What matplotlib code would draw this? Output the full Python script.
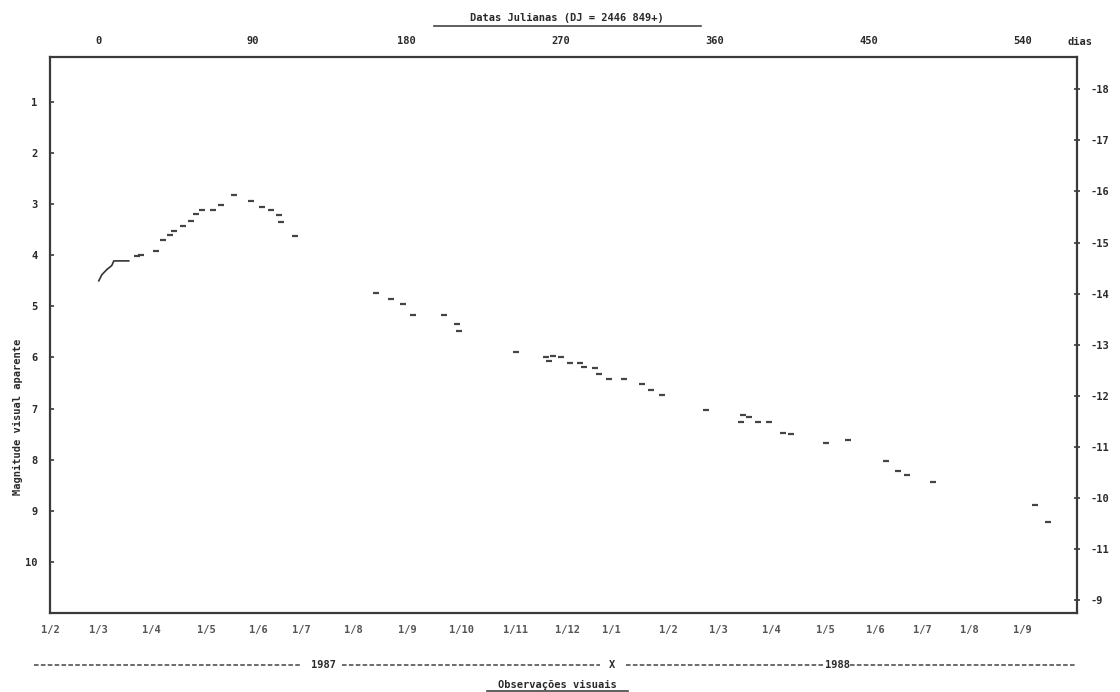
import matplotlib
matplotlib.use('Agg')
import matplotlib.pyplot as plt
from matplotlib.lines import Line2D

# Curva de luz (dias apos DJ 2446849, magnitude visual aparente)
dias_subida = [0.2, 2.0, 4.9, 7.8, 9.0, 13.6, 17.7]
mag_subida = [4.50, 4.38, 4.28, 4.20, 4.11, 4.11, 4.11]

dias_obs = [22.4, 24.7, 33.4, 37.5, 42.1, 44.0, 49.2, 53.8, 57.3, 60.8, 67.2, 71.9,
            79.4, 89.3, 95.7, 100.9, 105.6, 106.8, 114.9,
            162.1, 170.8, 177.8, 183.6, 202.2, 209.8, 210.9, 244.0,
            261.6, 263.4, 265.7, 270.3, 275.6, 281.4, 283.7, 290.1, 292.4,
            298.2, 307.0, 317.5, 322.7, 329.1,
            355.3, 375.7, 376.9, 380.4, 385.6, 392.0, 400.2, 404.8, 425.2,
            438.0, 460.1, 467.1, 472.3, 487.5, 547.4, 555.0]
mag_obs = [4.01, 3.99, 3.91, 3.71, 3.60, 3.52, 3.42, 3.32, 3.20, 3.12, 3.12, 3.01,
           2.83, 2.93, 3.05, 3.12, 3.22, 3.34, 3.63,
           4.73, 4.85, 4.95, 5.17, 5.17, 5.34, 5.48, 5.89,
           5.99, 6.07, 5.97, 5.99, 6.11, 6.11, 6.19, 6.21, 6.33,
           6.42, 6.42, 6.52, 6.64, 6.74,
           7.03, 7.27, 7.13, 7.17, 7.27, 7.27, 7.47, 7.49, 7.68,
           7.62, 8.02, 8.23, 8.29, 8.43, 8.88, 9.21]

# Eixos
dias_ticks = [0, 90, 180, 270, 360, 450, 540]
meses_pos = [-28.3, 0.2, 31.1, 63.1, 93.4, 118.4, 149.2, 180.7, 212.1, 243.5,
             273.8, 300.0, 333.2, 362.3, 393.1, 424.6, 453.7, 481.6, 509.0, 539.8]
meses_lab = ['1/2', '1/3', '1/4', '1/5', '1/6', '1/7', '1/8', '1/9', '1/10', '1/11',
             '1/12', '1/1', '1/2', '1/3', '1/4', '1/5', '1/6', '1/7', '1/8', '1/9']
mag_ticks = [1, 2, 3, 4, 5, 6, 7, 8, 9, 10]
abs_ticks = [-18, -17, -16, -15, -14, -13, -12, -11, -10, -9, -8]
abs_lab = ['-18', '-17', '-16', '-15', '-14', '-13', '-12', '-11', '-10', '-11', '-9']
modulo_dist = 18.75

fonte = {'family': 'DejaVu Sans Mono', 'weight': 'bold', 'size': 7.5}
cor_txt = '#2a2a2a'
cor_eixo = '#3a3a3a'

fig = plt.figure(figsize=(11.2, 6.92), dpi=100)
ax = fig.add_axes([50 / 1120, 1 - 613 / 692, 1027 / 1120, 556 / 692])

# subida inicial ligada por linha, resto em tracos
ax.plot(dias_subida, mag_subida, '-', color='#333333', lw=1.2)
ax.plot(dias_obs, mag_obs, linestyle='none', marker='_', markersize=5,
        mew=1.6, color='#444444')

ax.set_xlim(-26.0, 571.8)
ax.set_ylim(11.0, 0.12)

for s in ax.spines.values():
    s.set_color(cor_eixo)
    s.set_linewidth(1.6)

ax.set_yticks(mag_ticks)
ax.set_yticklabels([str(v) for v in mag_ticks], fontdict=fonte, color=cor_txt)
ax.tick_params(axis='y', direction='in', length=3, width=1.2, color=cor_eixo, pad=9)

ax.set_xticks(meses_pos)
ax.set_xticklabels(meses_lab, fontdict=fonte, color='#555555')
ax.tick_params(axis='x', length=0, pad=9)

top = ax.secondary_xaxis('top')
top.set_xticks(dias_ticks)
top.set_xticklabels([str(v) for v in dias_ticks], fontdict=fonte, color=cor_txt)
top.tick_params(length=0, pad=8)
top.spines['top'].set_visible(False)

dir_ax = ax.twinx()
lo, hi = ax.get_ylim()
dir_ax.set_ylim(lo - modulo_dist, hi - modulo_dist)
dir_ax.set_yticks(abs_ticks)
dir_ax.set_yticklabels(abs_lab, fontdict=fonte, color=cor_txt)
dir_ax.tick_params(axis='y', direction='inout', length=4, width=1.2, color=cor_eixo, pad=8)
for s in dir_ax.spines.values():
    s.set_visible(False)

# Textos
fig.text(1080 / 1120, 1 - 42 / 692, 'dias', ha='center', va='center',
         fontdict=fonte, color=cor_txt)
fig.text(567 / 1120, 1 - 18 / 692, 'Datas Julianas (DJ = 2446 849+)', ha='center',
         va='center', fontdict=fonte, color=cor_txt)
fig.add_artist(Line2D([434 / 1120, 701 / 1120], [1 - 26 / 692, 1 - 26 / 692],
                      color='#444444', lw=1.2))
fig.text(18 / 1120, 1 - 417 / 692, 'Magnitude visual aparente', rotation=90,
         ha='center', va='center', fontdict=fonte, color=cor_txt)

# Linha de anos
y_ano = 1 - 665 / 692
segs = [(34, 302), (342, 600), (626, 823), (850, 1076)]
for a, b in segs:
    fig.add_artist(Line2D([a / 1120, b / 1120], [y_ano, y_ano], color='#444444',
                          lw=1.1, linestyle=(0, (3, 1.5))))
fig.text(323 / 1120, y_ano, '1987', ha='center', va='center', fontdict=fonte, color=cor_txt)
fig.text(612 / 1120, y_ano, 'X', ha='center', va='center', fontdict=fonte, color=cor_txt)
fig.text(837 / 1120, y_ano, '1988', ha='center', va='center', fontdict=fonte, color=cor_txt)

fig.text(557 / 1120, 1 - 685 / 692, 'Observações visuais', ha='center', va='center',
         fontdict=fonte, color=cor_txt)
fig.add_artist(Line2D([487 / 1120, 628 / 1120], [1 - 691 / 692, 1 - 691 / 692],
                      color='#444444', lw=1.2))

fig.savefig('out.png', dpi=100, facecolor='white')
